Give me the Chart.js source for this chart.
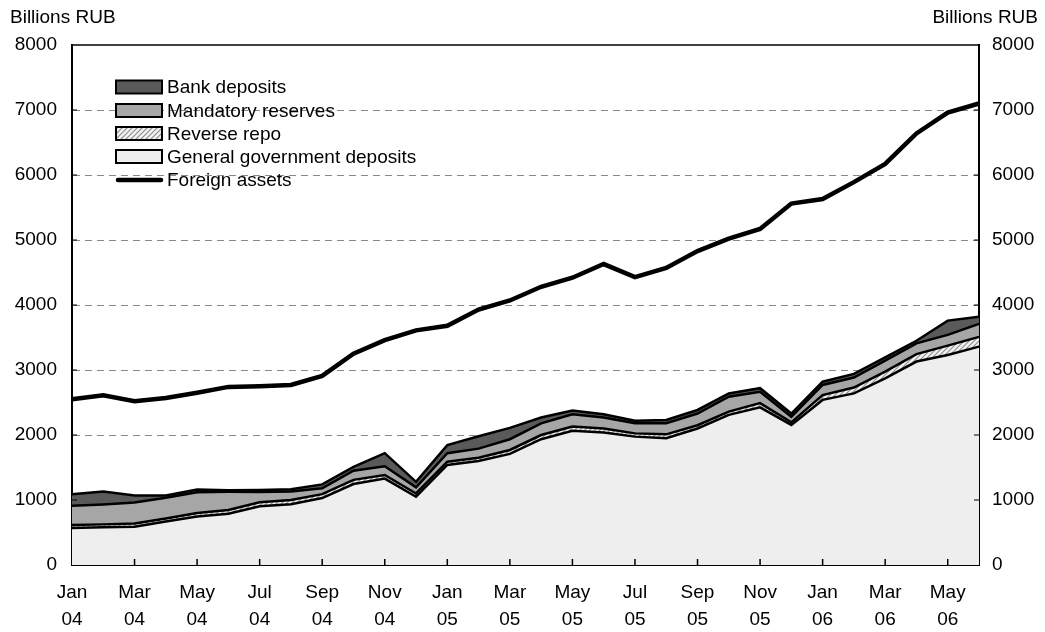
<!DOCTYPE html>
<html><head><meta charset="utf-8">
<script src="https://cdn.jsdelivr.net/npm/chart.js@4/dist/chart.umd.min.js"></script>
<style>html,body{margin:0;padding:0;background:#fff;}#wrap{width:1045px;height:632px;position:relative;}</style>
</head><body><div id="wrap"><canvas id="c"></canvas></div>
<script>
// ---- DATA ----
const categories = ['Jan 04','Feb 04','Mar 04','Apr 04','May 04','Jun 04','Jul 04','Aug 04','Sep 04','Oct 04','Nov 04','Dec 04',
  'Jan 05','Feb 05','Mar 05','Apr 05','May 05','Jun 05','Jul 05','Aug 05','Sep 05','Oct 05','Nov 05','Dec 05',
  'Jan 06','Feb 06','Mar 06','Apr 06','May 06','Jun 06'];
const tickLabels = [['Jan','04'],null,['Mar','04'],null,['May','04'],null,['Jul','04'],null,['Sep','04'],null,['Nov','04'],null,
  ['Jan','05'],null,['Mar','05'],null,['May','05'],null,['Jul','05'],null,['Sep','05'],null,['Nov','05'],null,
  ['Jan','06'],null,['Mar','06'],null,['May','06'],null];
const yTicks = [0,1000,2000,3000,4000,5000,6000,7000,8000];
const govDeposits = [570,580,590,670,745,790,905,935,1030,1245,1330,1050,1540,1600,1710,1935,2065,2040,1975,1950,2100,2310,2425,2155,2540,2640,2870,3130,3230,3360];
const reverseRepo = [45,45,50,45,55,55,60,65,60,65,55,50,50,50,60,65,65,60,50,60,50,50,65,40,75,90,105,115,145,150];
const mandatoryReserves = [295,305,320,320,320,280,160,130,90,140,135,95,130,140,165,180,190,170,155,170,180,230,175,85,155,155,170,165,165,200];
const bankDeposits = [180,200,110,35,40,25,30,35,60,60,200,85,125,190,175,90,55,50,40,50,55,50,55,50,50,55,50,40,220,110];
const foreignAssets = [2550,2610,2520,2570,2650,2740,2750,2770,2910,3250,3460,3610,3680,3930,4070,4280,4420,4630,4430,4570,4830,5020,5170,5560,5630,5890,6170,6640,6960,7100];
const unitLabel = 'Billions RUB';
const legendNames = ['Bank deposits','Mandatory reserves','Reverse repo','General government deposits','Foreign assets'];

// ---- STYLE ----
const FONT = 'Liberation Sans, Arial, sans-serif';
const FS = 19;
function hatch(){
  const p=document.createElement('canvas'); p.width=5; p.height=5;
  const g=p.getContext('2d'); g.fillStyle='#f2f2f2'; g.fillRect(0,0,5,5);
  g.strokeStyle='#8c8c8c'; g.lineWidth=1.1;
  g.beginPath(); g.moveTo(0,5); g.lineTo(5,0); g.moveTo(-1,1); g.lineTo(1,-1); g.moveTo(4,6); g.lineTo(6,4); g.stroke();
  return g.createPattern(p,'repeat');
}
const hatchFill = hatch();
const colGov='#eeeeee', colMand='#a6a6a6', colBank='#5a5a5a';

function area(label,data,bg,fill){
  return {label,data,backgroundColor:bg,borderColor:'#000',borderWidth:2.5,fill,pointRadius:0,tension:0,stack:'s',yAxisID:'y',borderJoinStyle:'miter'};
}

const overlay = {
  id:'overlay',
  afterDraw(chart){
    const {ctx,chartArea:a,scales}=chart;
    ctx.save();
    ctx.strokeStyle='#000'; ctx.lineWidth=1.5;
    ctx.beginPath(); ctx.moveTo(a.left,a.top); ctx.lineTo(a.right,a.top); ctx.stroke();
    ctx.lineWidth=1.5;
    tickLabels.forEach((t,i)=>{ if(!t||i===0) return; const x=scales.x.getPixelForValue(i);
      ctx.beginPath(); ctx.moveTo(x,a.bottom); ctx.lineTo(x,a.bottom-6); ctx.stroke(); });
    ctx.lineWidth=1;
    yTicks.forEach(v=>{ if(v===0||v===8000) return; const y=scales.y.getPixelForValue(v);
      ctx.beginPath(); ctx.moveTo(a.left,y); ctx.lineTo(a.left+5,y); ctx.moveTo(a.right,y); ctx.lineTo(a.right-5,y); ctx.stroke(); });
    ctx.fillStyle='#000'; ctx.font=FS+'px '+FONT; ctx.textBaseline='alphabetic';
    ctx.textAlign='left'; ctx.fillText(unitLabel,10,23);
    ctx.textAlign='right'; ctx.fillText(unitLabel,1038,23);
    const fills=[colBank,colMand,hatchFill,colGov];
    const ys=[87,110.5,133.5,156.5,180];
    ctx.textAlign='left'; ctx.textBaseline='middle';
    for(let i=0;i<5;i++){
      const y=ys[i];
      if(i<4){
        ctx.fillStyle=fills[i]; ctx.fillRect(116,y-6.5,46,13);
        ctx.strokeStyle='#000'; ctx.lineWidth=2; ctx.strokeRect(116,y-6.5,46,13);
      } else {
        ctx.strokeStyle='#000'; ctx.lineWidth=4.5; ctx.lineCap='round';
        ctx.beginPath(); ctx.moveTo(118,y); ctx.lineTo(161,y); ctx.stroke(); ctx.lineCap='butt';
      }
      ctx.fillStyle='#000'; ctx.fillText(legendNames[i],167,y+1);
    }
    ctx.restore();
  }
};

new Chart(document.getElementById('c'),{
  type:'line',
  data:{labels:categories,datasets:[
    area(legendNames[3],govDeposits,colGov,'origin'),
    area(legendNames[2],reverseRepo,hatchFill,'-1'),
    area(legendNames[1],mandatoryReserves,colMand,'-1'),
    area(legendNames[0],bankDeposits,colBank,'-1'),
    {label:legendNames[4],data:foreignAssets,borderColor:'#000',borderWidth:4.5,fill:false,pointRadius:0,tension:0,stack:'fa',yAxisID:'y'}
  ]},
  options:{
    responsive:true,maintainAspectRatio:false,animation:false,
    layout:{padding:{top:45,left:0,right:0,bottom:0}},
    plugins:{legend:{display:false},tooltip:{enabled:false}},
    scales:{
      x:{type:'category',offset:false,
        grid:{display:false},
        border:{display:true,color:'#000',width:2},
        ticks:{autoSkip:false,maxRotation:0,minRotation:0,color:'#000',padding:6,
          font:{family:FONT,size:FS,lineHeight:1.42},
          callback:(v,i)=>tickLabels[i]},
        afterFit:s=>{s.height=67;}
      },
      y:{position:'left',stacked:true,min:0,max:8000,
        grid:{color:c=>(c.tick&&(c.tick.value===0||c.tick.value===8000))?'rgba(0,0,0,0)':'#8a8a8a',lineWidth:1,drawTicks:false},
        border:{display:true,color:'#000',width:2,dash:[7,5]},
        ticks:{stepSize:1000,color:'#000',padding:15,font:{family:FONT,size:FS},callback:v=>String(v)},
        afterBuildTicks:s=>{s.ticks=yTicks.map(v=>({value:v}));},
        afterFit:s=>{s.width=72;}
      },
      y2:{position:'right',min:0,max:8000,
        grid:{display:false,drawTicks:false},
        border:{display:true,color:'#000',width:2},
        ticks:{stepSize:1000,color:'#000',padding:13,font:{family:FONT,size:FS},callback:v=>String(v)},
        afterBuildTicks:s=>{s.ticks=yTicks.map(v=>({value:v}));},
        afterFit:s=>{s.width=66;}
      }
    }
  },
  plugins:[overlay]
});
</script></body></html>
